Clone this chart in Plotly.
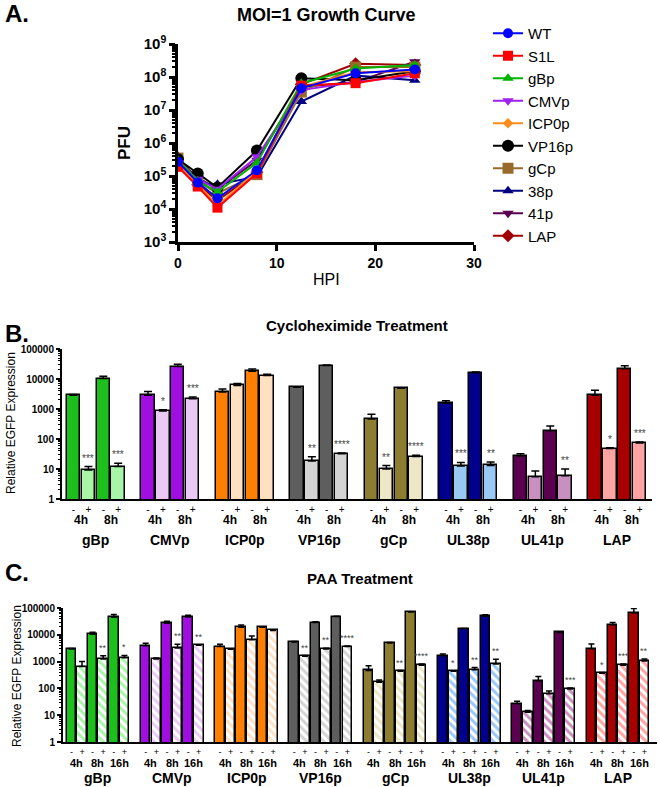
import numpy as np
import plotly.graph_objects as go

W, H = 660, 787
FONT = "Liberation Sans, Arial, sans-serif"

def px_x(p):
    return p / W

def px_y(p):
    return 1 - p / H

# ---------------- Panel A data ----------------
hpi = [0, 2, 4, 8, 12.5, 18, 24]
strains = ["WT", "S1L", "gBp", "CMVp", "ICP0p", "VP16p", "gCp", "38p", "41p", "LAP"]
pfu_WT = [2.7e5, 6.3e4, 2.1e4, 1.5e5, 4.6e7, 1.3e8, 1.7e8]
pfu_S1L = [1.9e5, 4.8e4, 1.1e4, 1.2e5, 5.5e7, 6.5e7, 1.3e8]
pfu_gBp = [3.0e5, 7.0e4, 3.3e4, 2.5e5, 6.5e7, 1.8e8, 2.3e8]
pfu_CMVp = [2.5e5, 8.0e4, 4.0e4, 3.8e5, 4.0e7, 7.0e7, 1.1e8]
pfu_ICP0p = [2.3e5, 5.5e4, 1.3e4, 1.4e5, 5.0e7, 1.4e8, 1.5e8]
pfu_VP16p = [3.2e5, 1.2e5, 4.5e4, 5.9e5, 9.1e7, 8.0e7, 1.5e8]
pfu_gCp = [3.5e5, 7.0e4, 3.0e4, 1.1e5, 3.5e7, 2.0e8, 2.0e8]
pfu_38p = [4.0e5, 6.0e4, 5.6e4, 9.5e4, 1.8e7, 1.1e8, 8.0e7]
pfu_41p = [3.0e5, 9.0e4, 4.0e4, 3.0e5, 5.0e7, 7.0e7, 2.9e8]
pfu_LAP = [2.2e5, 5.5e4, 1.8e4, 1.3e5, 6.0e7, 2.5e8, 2.3e8]
pfu_all = [pfu_WT, pfu_S1L, pfu_gBp, pfu_CMVp, pfu_ICP0p, pfu_VP16p, pfu_gCp, pfu_38p, pfu_41p, pfu_LAP]
strain_colors = ["#0000FF", "#FF0000", "#00B400", "#A020F0", "#FF8C1A", "#000000",
                 "#9A6A2A", "#000080", "#5A0050", "#A00000"]
strain_symbols = ["circle", "square", "triangle-up", "triangle-down", "diamond", "circle",
                  "square", "triangle-up", "triangle-down", "diamond"]
strain_sizes = [10, 10, 10, 10, 8, 12, 11, 10, 10, 10]

# ---------------- Panel B / C data ----------------
groups = ["gBp", "CMVp", "ICP0p", "VP16p", "gCp", "UL38p", "UL41p", "LAP"]
dark_colors = ["#1DBF1D", "#A10EE0", "#FF7F00", "#5E5E5E", "#8C7D30", "#00008C", "#5C0050", "#A80000"]
light_colors = ["#A8F5A8", "#EBC9F5", "#FFE1C2", "#D4D4D4", "#EDE6C7", "#99C8F5", "#C98FC1", "#FFA3A3"]

times_B = ["4h", "8h"]
chx_minus = [[2850, 10300], [2900, 26000], [3700, 18000], [5300, 28000],
             [465, 4900], [1550, 16300], [27, 190], [2850, 22000]]
chx_minus_err = [[200, 2000], [900, 5000], [900, 3500], [250, 1500],
                 [200, 250], [350, 700], [5, 80], [1400, 5500]]
chx_plus = [[9.3, 12], [850, 2200], [6100, 13000], [18.5, 32],
            [10, 26], [12.6, 13.2], [5.5, 6], [48, 74]]
chx_plus_err = [[2.7, 3.5], [100, 300], [1000, 1500], [7, 2],
                [3, 3], [4, 4], [3, 4], [3, 6]]
chx_sig = [["***", "***"], ["*", "***"], ["", ""], ["**", "****"],
           ["**", "****"], ["***", "**"], ["", "**"], ["*", "***"]]

times_C = ["4h", "8h", "16h"]
paa_minus = [[2950, 10500, 45000], [3900, 27000, 46000], [3650, 19000, 19000], [5400, 28500, 48000],
             [470, 4950, 71000], [1660, 17000, 49000], [27, 195, 12300], [3030, 23300, 65000]]
paa_minus_err = [[150, 2000, 12000], [900, 5000, 8000], [800, 4000, 1000], [200, 2000, 1500],
                 [230, 200, 2000], [250, 300, 7000], [6, 85, 200], [1500, 5500, 30000]]
paa_plus = [[650, 1260, 1400], [1250, 3200, 4050], [2900, 6600, 14500], [1580, 2950, 3650],
            [168, 435, 725], [435, 500, 815], [13, 63, 95], [365, 725, 1050]]
paa_plus_err = [[350, 400, 300], [100, 1200, 100], [100, 2500, 800], [100, 200, 200],
                [40, 30, 80], [25, 100, 400], [2, 17, 8], [25, 80, 200]]
paa_sig = [["", "**", "*"], ["", "**", "**"], ["", "", ""], ["**", "**", "****"],
           ["", "**", "****"], ["*", "**", "**"], ["", "", "***"], ["*", "***", "**"]]

fig = go.Figure()

# ---------------- Panel A traces ----------------
for i in reversed(range(len(strains))):
    fig.add_trace(go.Scatter(
        x=hpi, y=pfu_all[i], name=strains[i], mode="lines+markers",
        line=dict(color=strain_colors[i], width=2),
        marker=dict(color=strain_colors[i], symbol=strain_symbols[i], size=strain_sizes[i]),
        legendrank=i + 1, xaxis="x", yaxis="y"))

annotations = []

def note(x, y, text, size, bold=False, xref="paper", yref="paper", angle=0, color="black",
         xanchor="center", yanchor="middle", yshift=0):
    annotations.append(dict(
        x=x, y=y, xref=xref, yref=yref, text=text, showarrow=False, textangle=angle,
        xanchor=xanchor, yanchor=yanchor, yshift=yshift,
        font=dict(family=FONT, size=size, color=color, weight="bold" if bold else "normal")))

def bar_panel(xa, ya, minus, minus_err, plus, plus_err, sig, times, pitch, hatch,
              sig_font, time_font, time_y, group_y, width):
    nt = len(times)
    xm, xp, ym, yp, em, ep, cm, lp = [], [], [], [], [], [], [], []
    for g in range(len(groups)):
        for t in range(nt):
            base = g * pitch + 2 * t
            xm.append(base); xp.append(base + 1)
            ym.append(minus[g][t]); yp.append(plus[g][t])
            em.append(minus_err[g][t]); ep.append(plus_err[g][t])
            cm.append(dark_colors[g]); lp.append(light_colors[g])
            if sig[g][t]:
                note(base + 1, np.log10(plus[g][t] + plus_err[g][t]), sig[g][t], sig_font,
                     xref=xa, yref=ya, color="#444444", yanchor="bottom", yshift=1)
            note(base + 0.5, px_y(time_y), times[t], time_font, bold=True, xref=xa)
        note(g * pitch + nt - 0.5, px_y(group_y), groups[g], 14, bold=True, xref=xa)
    errm = dict(type="data", array=em, arrayminus=[0] * len(em), symmetric=False,
                color="black", thickness=1.5, width=width)
    errp = dict(type="data", array=ep, arrayminus=[0] * len(ep), symmetric=False,
                color="black", thickness=1.5, width=width)
    fig.add_trace(go.Bar(x=xm, y=ym, width=0.9, marker=dict(color=cm, line=dict(color="black", width=1.5)),
                         error_y=errm, xaxis=xa, yaxis=ya, showlegend=False))
    if hatch:
        mk = dict(color=lp, line=dict(color="black", width=1.5),
                  pattern=dict(shape="\\", fgcolor=cm, bgcolor=lp, size=6, solidity=0.5,
                               fillmode="replace"))
    else:
        mk = dict(color=lp, line=dict(color="black", width=1.5))
    fig.add_trace(go.Bar(x=xp, y=yp, width=0.9, marker=mk, error_y=errp,
                         xaxis=xa, yaxis=ya, showlegend=False))
    tickvals = sorted(xm + xp)
    ticktext = ["-" if v in xm else "+" for v in tickvals]
    return tickvals, ticktext

tvB, ttB = bar_panel("x2", "y2", chx_minus, chx_minus_err, chx_plus, chx_plus_err, chx_sig,
                     times_B, 5, False, 10, 12, 520, 540, 4)
tvC, ttC = bar_panel("x3", "y3", paa_minus, paa_minus_err, paa_plus, paa_plus_err, paa_sig,
                     times_C, 7, True, 9, 11, 763, 778, 3)

# Panel labels & titles
for txt, y in [("A.", 14), ("B.", 333), ("C.", 572)]:
    note(px_x(3), px_y(y), txt, 24, bold=True, xanchor="left")
note(px_x(326), px_y(15), "MOI=1 Growth Curve", 18, bold=True)
note(px_x(357), px_y(326), "Cycloheximide Treatment", 15, bold=True)
note(px_x(360), px_y(578), "PAA Treatment", 15, bold=True)
note(px_x(125), px_y(143), "PFU", 17, bold=True, angle=-90)
note(px_x(326), px_y(280), "HPI", 16)
note(px_x(11), px_y(423), "Relative EGFP Expression", 12, angle=-90)
note(px_x(17), px_y(676), "Relative EGFP Expression", 12, angle=-90)

decA = list(range(3, 10))
minorA = [m * 10 ** d for d in range(3, 9) for m in range(2, 10)]
decB = list(range(0, 6))
minorB = [m * 10 ** d for d in range(0, 5) for m in range(2, 10)]

axis_common = dict(showgrid=False, zeroline=False, showline=True, linecolor="black", automargin=False)

fig.update_layout(
    template="none",
    width=W, height=H, margin=dict(l=0, r=0, t=0, b=0, pad=0, autoexpand=False),
    paper_bgcolor="white", plot_bgcolor="white",
    font=dict(family=FONT, color="black"),
    barmode="overlay", bargap=0,
    xaxis=dict(domain=[px_x(178), px_x(474)], range=[0, 30], anchor="y", linewidth=2.5,
               ticks="outside", ticklen=6, tickwidth=2.5, tickcolor="black",
               tickvals=[0, 10, 20, 30],
               tickfont=dict(size=14, weight="bold"), **axis_common),
    yaxis=dict(domain=[px_y(242), px_y(44)], type="log", range=[3, 9], anchor="x", linewidth=2.5,
               ticks="outside", ticklen=6, tickwidth=2.5, tickcolor="black",
               tickvals=[10 ** d for d in decA], ticktext=["10<sup>%d</sup>" % d for d in decA],
               tickfont=dict(size=15, weight="bold"),
               minor=dict(ticks="outside", ticklen=3, tickwidth=1.5, tickcolor="black",
                          tickmode="array", tickvals=minorA, showgrid=False),
               **axis_common),
    xaxis2=dict(domain=[px_x(62), px_x(652)], range=[-0.772, 38.83], anchor="y2", linewidth=2,
                ticks="", tickvals=tvB, ticktext=ttB, tickfont=dict(size=10), **axis_common),
    yaxis2=dict(domain=[px_y(499), px_y(349)], type="log", range=[0, 5], anchor="x2", linewidth=2,
                ticks="outside", ticklen=4, tickwidth=2, tickcolor="black",
                tickvals=[10 ** d for d in decB], ticktext=[str(10 ** d) for d in decB],
                tickfont=dict(size=10, weight="bold"),
                minor=dict(ticks="outside", ticklen=2, tickwidth=1, tickcolor="black",
                           tickmode="array", tickvals=minorB, showgrid=False),
                **axis_common),
    xaxis3=dict(domain=[px_x(63), px_x(657)], range=[-0.79, 55.18], anchor="y3", linewidth=2,
                ticks="", tickvals=tvC, ticktext=ttC, tickfont=dict(size=9), **axis_common),
    yaxis3=dict(domain=[px_y(742), px_y(608)], type="log", range=[0, 5], anchor="x3", linewidth=2,
                ticks="outside", ticklen=4, tickwidth=2, tickcolor="black",
                tickvals=[10 ** d for d in decB], ticktext=[str(10 ** d) for d in decB],
                tickfont=dict(size=10, weight="bold"),
                minor=dict(ticks="outside", ticklen=2, tickwidth=1, tickcolor="black",
                           tickmode="array", tickvals=minorB, showgrid=False),
                **axis_common),
    legend=dict(x=px_x(488), y=px_y(17), xanchor="left", yanchor="top",
                font=dict(family=FONT, size=15, color="black"), bgcolor="rgba(0,0,0,0)",
                traceorder="normal", itemwidth=30),
    annotations=annotations,
)

fig.write_html("out.html", config={"displayModeBar": False},
               post_script="document.body.style.margin='0px';document.body.style.overflow='hidden';")
